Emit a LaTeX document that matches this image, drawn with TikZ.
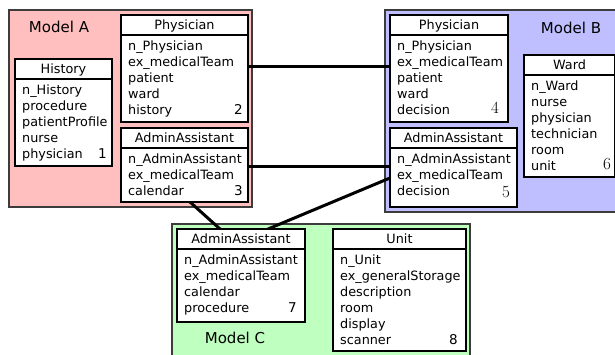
\documentclass[tikz,border=0pt]{standalone}
\usepackage{fontspec}
\setsansfont{DejaVu Sans}
\definecolor{pinkA}{RGB}{255,191,191}
\definecolor{blueB}{RGB}{191,191,255}
\definecolor{greenC}{RGB}{191,255,191}
\definecolor{frameC}{RGB}{60,60,60}
\pgfdeclarelayer{back}
\pgfdeclarelayer{mid}
\pgfsetlayers{back,mid,main}
\tikzset{
  model/.style={draw=frameC, line width=1.2pt},
  umlframe/.style={draw=black, fill=white, line width=1.3pt, inner sep=0pt, outer sep=0pt},
  titlesep/.style={draw=black, line width=1.8pt},
  titletext/.style={anchor=base, inner sep=0pt, font=\sffamily\fontsize{12.8}{16}\selectfont},
  bodytext/.style={anchor=base west, inner sep=0pt, font=\sffamily\fontsize{12.8}{16}\selectfont},
  numsans/.style={anchor=base east, inner sep=0pt, font=\sffamily\fontsize{13.5}{16}\selectfont},
  numserif/.style={anchor=base east, inner sep=0pt, font=\rmfamily\fontsize{17}{17}\selectfont},
  modellabel/.style={anchor=base, inner sep=0pt, font=\sffamily\fontsize{15}{18}\selectfont},
  link/.style={draw=black, line width=3pt}
}
\newcommand\umlbox[7]{%
  \node[umlframe, minimum width={(#4-#2)*1pt}, minimum height={(#5-#3)*1pt}] (#1) at ({(#2+#4)/2},{(#3+#5)/2}) {};
  \draw[titlesep] ([yshift=-20pt]#1.north west) -- ([yshift=-20pt]#1.north east);
  \node[titletext] (#1-t) at ({(#2+#4)/2},{#3+14}) {#6};
  \node[bodytext] (#1-b) at ({#2+7},{#3+35}) {\begin{tabular}[t]{@{}l@{}}#7\end{tabular}};
}
\begin{document}
\begin{tikzpicture}[x=1pt,y=-1pt]
\useasboundingbox (0,0) rectangle (615,354);
\begin{pgfonlayer}{back}
\fill[white] (0,0) rectangle (615,354);
\path[model, fill=pinkA] (9,10) rectangle (252,207);
\path[model, fill=blueB] (385,10) rectangle (630,212);
\path[model, fill=greenC] (172,224) rectangle (470,370);
\end{pgfonlayer}
\node[modellabel] (mA) at (59,32) {Model A};
\node[modellabel] (mB) at (571,33) {Model B};
\node[modellabel] (mC) at (235,343) {Model C};
% boxes
\umlbox{hist}{15}{59}{112}{166}{History}{n\_History\\procedure\\patientProfile\\nurse\\physician}
\node[numsans] (n1) at (107,158) {1};
\umlbox{physA}{121}{15}{248}{122}{Physician}{n\_Physician\\ex\_medicalTeam\\patient\\ward\\history}
\node[numsans] (n2) at (243,114) {2};
\umlbox{admA}{121}{128}{248}{202}{AdminAssistant}{n\_AdminAssistant\\ex\_medicalTeam\\calendar}
\node[numsans] (n3) at (243,195) {3};
\umlbox{physB}{390}{15}{508}{122}{Physician}{n\_Physician\\ex\_medicalTeam\\patient\\ward\\decision}
\node[numserif] (n4) at (499,113) {4};
\umlbox{admB}{390}{128}{517}{207}{AdminAssistant}{n\_AdminAssistant\\ex\_medicalTeam\\decision}
\node[numserif] (n5) at (510,197) {5};
\umlbox{ward}{524}{55}{615}{177}{Ward}{n\_Ward\\nurse\\physician\\technician\\room\\unit}
\node[numserif] (n6) at (611,169) {6};
\umlbox{admC}{177}{229}{305}{322}{AdminAssistant}{n\_AdminAssistant\\ex\_medicalTeam\\calendar\\procedure}
\node[numsans] (n7) at (297,312) {7};
\umlbox{unit}{333}{229}{466}{351}{Unit}{n\_Unit\\ex\_generalStorage\\description\\room\\display\\scanner}
\node[numsans] (n8) at (458,344) {8};
% connectors
\begin{pgfonlayer}{mid}
\draw[link] ([yshift=-51pt]physA.north east) -- ([yshift=-51pt]physB.north west);
\draw[link] ([yshift=-38pt]admA.north east) -- ([yshift=-38pt]admB.north west);
\draw[link] ([xshift=69pt]admA.south west) -- ([xshift=43pt]admC.north west);
\draw[link] ([yshift=-50pt]admB.north west) -- ([xshift=91pt]admC.north west);
\end{pgfonlayer}
\end{tikzpicture}
\end{document}
